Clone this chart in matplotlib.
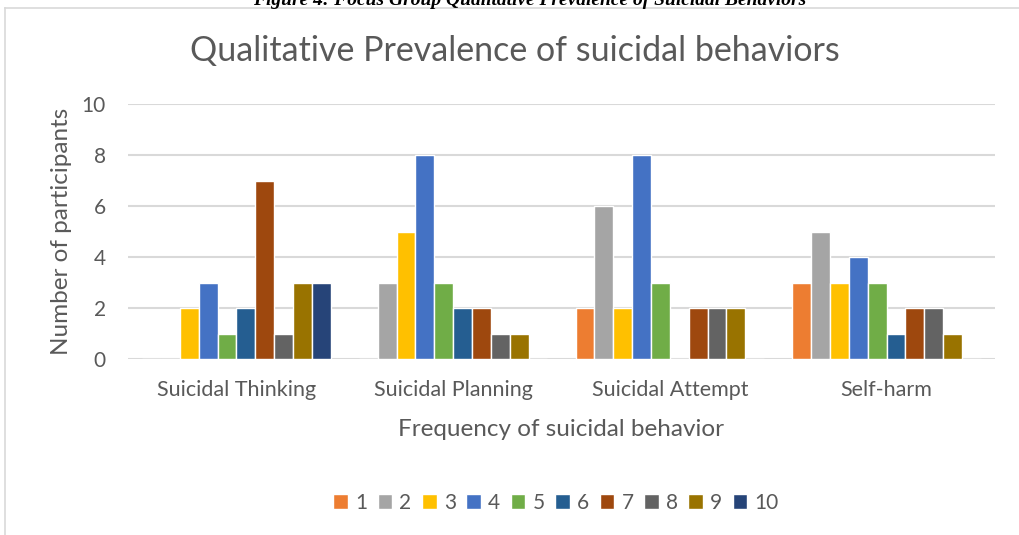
"""
Grouped bar chart: qualitative prevalence of suicidal behaviors
(focus group counts per frequency level).
"""

import numpy as np
import matplotlib.pyplot as plt
from matplotlib.lines import Line2D

categories: list[str] = ["Suicidal Thinking", "Suicidal Planning",
                         "Suicidal Attempt", "Self-harm"]
series_names: list[str] = ["1", "2", "3", "4", "5", "6", "7", "8", "9", "10"]

s1 = [0, 0, 2, 3]
s2 = [0, 3, 6, 5]
s3 = [2, 5, 2, 3]
s4 = [3, 8, 8, 4]
s5 = [1, 3, 3, 3]
s6 = [2, 2, 0, 1]
s7 = [7, 2, 2, 2]
s8 = [1, 1, 2, 2]
s9 = [3, 1, 2, 1]
s10 = [3, 0, 0, 0]
all_series = [s1, s2, s3, s4, s5, s6, s7, s8, s9, s10]

colors = ["#ED7D31", "#A5A5A5", "#FFC000", "#4472C4", "#70AD47",
          "#255E91", "#9E480E", "#636363", "#997300", "#264478"]

text_color = "#595959"
font = "Lato"

fig = plt.figure(figsize=(10.19, 5.35), dpi=100)
ax = fig.add_axes([128 / 1019, 1 - 359 / 535, 867 / 1019, 255 / 535])

x = np.arange(len(categories))
slot = 0.087
for i, (vals, col) in enumerate(zip(all_series, colors)):
    offs = (i - 4.5) * slot
    ax.bar(x + offs, vals, width=slot, color=col, edgecolor="white",
           linewidth=1.0, label=series_names[i], zorder=3)

ax.set_xlim(-0.5, len(categories) - 0.5)
ax.set_ylim(0, 10)
ax.set_yticks(range(0, 11, 2))
ax.set_xticks(x)
ax.set_xticklabels(categories, fontsize=15.5, color=text_color, family=font)
for lab in ax.get_yticklabels():
    lab.set_fontsize(15)
    lab.set_color(text_color)
    lab.set_family(font)
ax.tick_params(length=0)
ax.tick_params(axis="x", pad=15)
ax.tick_params(axis="y", pad=16)
ax.grid(axis="y", color="#D9D9D9", linewidth=1.5, zorder=0)
for sp in ax.spines.values():
    sp.set_visible(False)

ax.set_xlabel("Frequency of suicidal behavior", fontsize=17.5,
              color=text_color, family=font, labelpad=14)
ax.set_ylabel("Number of participants", fontsize=17.5,
              color=text_color, family=font, labelpad=7)

fig.text(515 / 1019, 1 - 51 / 535, "Qualitative Prevalence of suicidal behaviors",
         ha="center", va="center", fontsize=24.5, color=text_color, family=font)

# cut-off caption above the chart frame
fig.text(530 / 1019, 1 - 5 / 535,
         "Figure 4: Focus Group Qualitative Prevalence of Suicidal Behaviors",
         ha="center", va="baseline", fontsize=14, fontweight="bold",
         fontstyle="italic", family="Liberation Serif", color="black")

# chart frame
fig.add_artist(Line2D([5 / 1019, 1], [1 - 8 / 535, 1 - 8 / 535],
                      color="#D9D9D9", linewidth=1.2))
fig.add_artist(Line2D([5 / 1019, 5 / 1019], [0, 1 - 8 / 535],
                      color="#D9D9D9", linewidth=1.2))

leg = fig.legend(loc="center", bbox_to_anchor=(556 / 1019, 1 - 503 / 535),
                 ncol=10, frameon=False, handlelength=0.7, handleheight=0.7,
                 handletextpad=0.35, columnspacing=0.5,
                 prop={"family": font, "size": 15})
for t in leg.get_texts():
    t.set_color(text_color)

fig.savefig("out.png", dpi=100)
